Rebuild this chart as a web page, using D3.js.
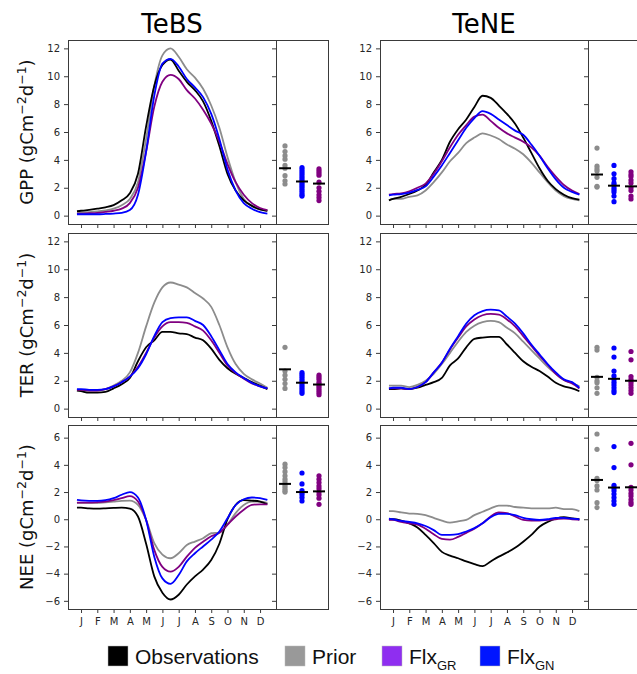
<!DOCTYPE html>
<html>
<head>
<meta charset="utf-8">
<script src="https://cdn.jsdelivr.net/npm/d3@7"></script>
<style>
  body { margin: 0; background: #fff; }
  svg { display: block; font-family: "DejaVu Sans", sans-serif; }
</style>
</head>
<body>
<div id="chart"></div>
<script>
// month positions (J = 0) of the climatology points
const monthPos = [-0.25, 0, 0.5, 1, 1.5, 2, 2.5, 3, 3.5, 4, 4.5, 5, 5.5, 6, 6.5, 7, 7.5, 8, 8.5, 9, 9.5, 10, 10.5, 11, 11.45];
const monthLabels = ["J", "F", "M", "A", "M", "J", "J", "A", "S", "O", "N", "D"];
const pfts = ["TeBS", "TeNE"];
const fluxes = ["GPP", "TER", "NEE"];
const posTicks = [0, 2, 4, 6, 8, 10, 12];
const neeTicks = [-6, -4, -2, 0, 2, 4, 6];

// TeBS seasonal cycles
const tebsGppObs   = [0.33, 0.35, 0.42, 0.5, 0.6, 0.75, 1.1, 1.6, 3.0, 6.4, 9.3, 10.8, 11.2, 10.4, 9.6, 9.0, 8.2, 6.8, 5.0, 3.0, 1.8, 1.1, 0.7, 0.45, 0.35];
const tebsGppPrior = [0.22, 0.22, 0.25, 0.3, 0.38, 0.5, 0.75, 1.2, 2.4, 5.5, 9.3, 11.5, 12.0, 11.4, 10.5, 9.9, 9.1, 7.9, 6.3, 4.2, 2.4, 1.2, 0.7, 0.45, 0.35];
const tebsGppGR    = [0.15, 0.15, 0.17, 0.2, 0.27, 0.35, 0.5, 0.9, 2.0, 4.6, 7.8, 9.6, 10.1, 9.8, 9.0, 8.4, 7.6, 6.6, 5.3, 3.7, 2.4, 1.5, 0.9, 0.55, 0.4];
const tebsGppGN    = [0.1, 0.1, 0.1, 0.1, 0.12, 0.15, 0.2, 0.4, 1.5, 4.6, 8.6, 10.9, 11.25, 10.7, 9.8, 9.2, 8.5, 7.3, 5.5, 3.3, 1.8, 0.9, 0.5, 0.25, 0.15];

const tebsTerObs   = [1.3, 1.25, 1.15, 1.15, 1.2, 1.45, 1.75, 2.2, 3.4, 4.4, 4.9, 5.5, 5.5, 5.4, 5.35, 5.1, 4.9, 4.3, 3.5, 2.9, 2.5, 2.2, 1.9, 1.65, 1.4];
const tebsTerPrior = [1.35, 1.35, 1.3, 1.3, 1.4, 1.65, 2.0, 2.6, 4.0, 5.9, 7.6, 8.7, 9.05, 8.9, 8.7, 8.3, 7.9, 7.3, 6.0, 4.4, 3.2, 2.5, 2.1, 1.8, 1.5];
const tebsTerGR    = [1.35, 1.35, 1.3, 1.3, 1.4, 1.6, 1.9, 2.3, 3.0, 4.0, 5.1, 5.9, 6.2, 6.2, 6.15, 5.9, 5.6, 4.9, 4.0, 3.1, 2.55, 2.15, 1.8, 1.6, 1.45];
const tebsTerGN    = [1.4, 1.4, 1.35, 1.35, 1.4, 1.6, 1.9, 2.3, 2.9, 3.9, 5.2, 6.2, 6.5, 6.55, 6.55, 6.3, 6.0, 5.2, 4.2, 3.2, 2.6, 2.2, 1.85, 1.6, 1.45];

const tebsNeeObs   = [0.85, 0.85, 0.8, 0.78, 0.8, 0.83, 0.85, 0.78, 0.2, -1.8, -4.2, -5.4, -5.9, -5.55, -4.8, -4.2, -3.7, -3.0, -1.8, 0.0, 1.05, 1.4, 1.37, 1.3, 1.1];
const tebsNeePrior = [1.2, 1.2, 1.2, 1.2, 1.25, 1.3, 1.35, 1.37, 1.05, -0.05, -1.76, -2.6, -2.87, -2.5, -1.9, -1.64, -1.4, -1.03, -0.98, -0.4, 0.45, 1.05, 1.3, 1.3, 1.2];
const tebsNeeGR    = [1.22, 1.22, 1.22, 1.25, 1.3, 1.4, 1.55, 1.7, 1.3, -0.05, -2.25, -3.5, -3.85, -3.5, -2.75, -2.1, -1.65, -1.25, -1.0, -0.4, 0.2, 0.7, 1.05, 1.1, 1.1];
const tebsNeeGN    = [1.42, 1.38, 1.35, 1.35, 1.4, 1.55, 1.8, 2.0, 1.6, -0.05, -2.75, -4.35, -4.75, -4.1, -3.1, -2.5, -2.0, -1.5, -0.9, 0.07, 1.05, 1.47, 1.6, 1.55, 1.42];

// TeNE seasonal cycles
const teneGppObs   = [1.1, 1.2, 1.35, 1.55, 1.8, 2.2, 3.1, 4.0, 5.3, 6.2, 6.9, 7.8, 8.6, 8.45, 7.9, 7.3, 6.6, 5.6, 4.5, 3.4, 2.5, 1.9, 1.5, 1.25, 1.15];
const teneGppPrior = [1.1, 1.2, 1.2, 1.35, 1.45, 1.8, 2.4, 3.1, 3.9, 4.5, 5.2, 5.6, 5.9, 5.75, 5.5, 5.1, 4.8, 4.4, 3.8, 3.1, 2.4, 1.8, 1.4, 1.2, 1.1];
const teneGppGR    = [1.5, 1.55, 1.6, 1.75, 2.0, 2.3, 3.0, 3.9, 4.9, 5.8, 6.5, 7.1, 7.25, 6.8, 6.3, 5.9, 5.6, 5.3, 4.9, 4.3, 3.5, 2.8, 2.2, 1.8, 1.55];
const teneGppGN    = [1.45, 1.5, 1.55, 1.65, 1.85, 2.1, 2.8, 3.6, 4.5, 5.4, 6.3, 7.0, 7.5, 7.3, 6.9, 6.5, 6.1, 5.8, 5.1, 4.3, 3.4, 2.6, 2.0, 1.7, 1.5];

const teneTerObs   = [1.4, 1.4, 1.45, 1.4, 1.5, 1.7, 1.9, 2.2, 3.1, 3.6, 4.4, 5.0, 5.1, 5.15, 5.15, 4.6, 4.0, 3.4, 3.0, 2.7, 2.3, 1.85, 1.6, 1.45, 1.25];
const teneTerPrior = [1.65, 1.65, 1.65, 1.55, 1.7, 2.0, 2.5, 3.2, 4.0, 4.8, 5.5, 5.95, 6.2, 6.3, 6.2, 5.8, 5.4, 4.8, 4.2, 3.6, 3.0, 2.5, 2.05, 1.85, 1.6];
const teneTerGR    = [1.45, 1.45, 1.45, 1.4, 1.55, 1.9, 2.6, 3.3, 4.25, 5.1, 5.9, 6.4, 6.7, 6.8, 6.75, 6.4, 5.9, 5.2, 4.5, 3.8, 3.15, 2.5, 2.05, 1.8, 1.45];
const teneTerGN    = [1.45, 1.5, 1.5, 1.4, 1.55, 1.9, 2.6, 3.3, 4.3, 5.2, 6.1, 6.7, 7.0, 7.1, 7.05, 6.6, 6.1, 5.4, 4.6, 3.9, 3.2, 2.6, 2.1, 1.9, 1.5];

const teneNeeObs   = [0.0, 0.0, -0.1, -0.3, -0.6, -1.15, -1.75, -2.4, -2.67, -2.87, -3.1, -3.3, -3.45, -3.1, -2.75, -2.45, -2.1, -1.65, -1.15, -0.55, -0.2, 0.05, 0.15, 0.07, 0.0];
const teneNeePrior = [0.6, 0.6, 0.5, 0.42, 0.4, 0.3, 0.1, -0.1, -0.25, -0.15, -0.05, 0.3, 0.55, 0.8, 1.0, 1.0, 0.9, 0.85, 0.8, 0.8, 0.8, 0.85, 0.75, 0.75, 0.6];
const teneNeeGR    = [-0.05, -0.05, -0.2, -0.3, -0.4, -0.7, -1.1, -1.45, -1.5, -1.3, -1.0, -0.7, -0.3, 0.2, 0.5, 0.45, 0.2, -0.05, -0.1, -0.1, -0.05, 0.0, 0.05, 0.0, -0.05];
const teneNeeGN    = [0.05, 0.0, -0.12, -0.2, -0.3, -0.5, -0.8, -1.15, -1.15, -1.1, -0.9, -0.65, -0.3, 0.15, 0.4, 0.4, 0.3, 0.1, 0.0, -0.05, 0.0, 0.1, 0.1, 0.05, 0.0];

// side panels: per-site values (prior, Flx_GN, Flx_GR) and their median marks
const tebsGppSidePrior = [5.0, 4.6, 4.3, 4.05, 3.6, 3.4, 2.87, 2.5, 2.27];
const tebsGppSideGN    = [3.45, 3.3, 3.15, 3.0, 2.85, 2.7, 2.55, 2.4, 2.25, 2.1, 1.95, 1.8, 1.65, 1.5, 1.4];
const tebsGppSideGR    = [3.35, 3.2, 3.05, 2.9, 2.4, 2.0, 1.75, 1.5, 1.3, 1.08];
const tebsGppMedian    = [3.4, 2.45, 2.3];

const tebsTerSidePrior = [4.4, 2.7, 2.4, 2.1, 1.8, 1.45];
const tebsTerSideGN    = [2.58, 2.45, 2.3, 2.15, 2.0, 1.85, 1.7, 1.55, 1.4, 1.25, 1.1];
const tebsTerSideGR    = [2.4, 2.25, 2.1, 1.9, 1.75, 1.6, 1.45, 1.3, 1.15, 1.0];
const tebsTerMedian    = [2.82, 1.86, 1.73];

const tebsNeeSidePrior = [4.05, 3.8, 3.5, 3.2, 2.95, 2.75, 2.55, 2.4, 2.25, 2.1, 2.0];
const tebsNeeSideGN    = [3.4, 2.6, 2.1, 1.95, 1.8, 1.6, 1.35];
const tebsNeeSideGR    = [3.2, 2.95, 2.7, 2.45, 2.25, 2.0, 1.8, 1.55, 1.1];
const tebsNeeMedian    = [2.6, 2.0, 2.05];

const teneGppSidePrior = [4.85, 3.55, 3.35, 3.2, 2.75, 2.1, 2.05];
const teneGppSideGN    = [3.6, 3.0, 2.65, 2.35, 2.2, 2.0, 1.85, 1.7, 1.4, 1.0];
const teneGppSideGR    = [3.15, 2.95, 2.8, 2.55, 2.35, 2.0, 1.8, 1.4, 1.2];
const teneGppMedian    = [2.95, 2.15, 2.1];

const teneTerSidePrior = [4.4, 4.2, 2.25, 2.0, 1.85, 1.5, 1.1];
const teneTerSideGN    = [4.35, 3.7, 2.7, 2.35, 2.1, 1.9, 1.7, 1.5, 1.3, 1.15];
const teneTerSideGR    = [4.1, 3.5, 2.3, 2.1, 1.9, 1.7, 1.5, 1.3, 1.1];
const teneTerMedian    = [2.28, 2.14, 2.0];

const teneNeeSidePrior = [6.27, 5.14, 3.0, 2.85, 2.45, 2.15, 1.22, 0.86];
const teneNeeSideGN    = [5.34, 3.8, 2.5, 2.3, 2.1, 1.85, 1.6, 1.35, 1.1];
const teneNeeSideGR    = [5.58, 4.0, 2.35, 2.15, 1.9, 1.7, 1.45, 1.25, 1.1];
const teneNeeMedian    = [2.89, 2.33, 2.35];

// build panel tables
const lineSeries = {
  TeBS: {
    GPP: [tebsGppPrior, tebsGppObs, tebsGppGR, tebsGppGN],
    TER: [tebsTerPrior, tebsTerObs, tebsTerGR, tebsTerGN],
    NEE: [tebsNeePrior, tebsNeeObs, tebsNeeGR, tebsNeeGN]
  },
  TeNE: {
    GPP: [teneGppPrior, teneGppObs, teneGppGR, teneGppGN],
    TER: [teneTerPrior, teneTerObs, teneTerGR, teneTerGN],
    NEE: [teneNeePrior, teneNeeObs, teneNeeGR, teneNeeGN]
  }
};
const lineColors = ["#8c8c8c", "#000000", "#800080", "#0000ff"];

const sideSeries = {
  TeBS: {
    GPP: [tebsGppSidePrior, tebsGppSideGN, tebsGppSideGR, tebsGppMedian],
    TER: [tebsTerSidePrior, tebsTerSideGN, tebsTerSideGR, tebsTerMedian],
    NEE: [tebsNeeSidePrior, tebsNeeSideGN, tebsNeeSideGR, tebsNeeMedian]
  },
  TeNE: {
    GPP: [teneGppSidePrior, teneGppSideGN, teneGppSideGR, teneGppMedian],
    TER: [teneTerSidePrior, teneTerSideGN, teneTerSideGR, teneTerMedian],
    NEE: [teneNeeSidePrior, teneNeeSideGN, teneNeeSideGR, teneNeeMedian]
  }
};
const sideKeys = ["prior", "gn", "gr"];
const sideColors = ["#8c8c8c", "#0000ff", "#800080"];

const width = 637, height = 674;
const colX = [68, 380];
const rowY = [40, 233, 425];
const mainW = 208, sideW = 52, rowH = 184;
const frameColor = "#3a3a3a";

const svg = d3.select("#chart").append("svg")
  .attr("width", width)
  .attr("height", height);

const x = d3.scaleLinear().domain([-0.8, 11.98]).range([0, mainW]);
const xSide = d3.scalePoint().domain(sideKeys).range([9, 43]);
const yDomains = [[-0.6, 12.6], [-0.6, 12.6], [-6.6, 6.93]];

const line = d3.line()
  .x((d, i) => x(monthPos[i]))
  .curve(d3.curveMonotoneX);

function styleAxis(g) {
  g.select(".domain").remove();
  g.selectAll(".tick line").attr("stroke", frameColor);
  g.selectAll(".tick text")
    .attr("fill", "#262626")
    .style("font-size", "10px")
    .style("font-family", "'DejaVu Sans', sans-serif");
}

pfts.forEach((pft, c) => {
  fluxes.forEach((flux, r) => {
    const y = d3.scaleLinear().domain(yDomains[r]).range([rowH, 0]);
    const ticks = r === 2 ? neeTicks : posTicks;
    const g = svg.append("g").attr("transform", `translate(${colX[c]},${rowY[r]})`);

    // seasonal lines
    const clipId = `clip-${pft}-${flux}`;
    g.append("clipPath").attr("id", clipId)
      .append("rect").attr("width", mainW).attr("height", rowH);
    g.append("g").attr("clip-path", `url(#${clipId})`)
      .selectAll("path")
      .data(lineSeries[pft][flux])
      .join("path")
      .attr("d", vals => line.y(v => y(v))(vals))
      .attr("fill", "none")
      .attr("stroke", (d, i) => lineColors[i])
      .attr("stroke-width", 1.8);

    // axes
    g.append("g")
      .call(d3.axisLeft(y).tickValues(ticks).tickSize(4).tickPadding(4))
      .call(styleAxis);
    g.append("g")
      .attr("transform", `translate(0,${rowH})`)
      .call(d3.axisBottom(x).tickValues(d3.range(12)).tickSize(4).tickPadding(5)
        .tickFormat(i => r === 2 ? monthLabels[i] : ""))
      .call(styleAxis);

    // side panel
    const side = g.append("g").attr("transform", `translate(${mainW},0)`);
    side.append("g")
      .call(d3.axisLeft(y).tickValues(ticks).tickSize(4).tickFormat(""))
      .call(styleAxis);

    const sd = sideSeries[pft][flux];
    sideKeys.forEach((key, k) => {
      side.append("g").selectAll("circle")
        .data(sd[k])
        .join("circle")
        .attr("cx", xSide(key))
        .attr("cy", v => y(v))
        .attr("r", 2.6)
        .attr("fill", sideColors[k]);
    });
    side.selectAll("line.median")
      .data(sd[3])
      .join("line")
      .attr("class", "median")
      .attr("x1", (v, k) => xSide(sideKeys[k]) - 6)
      .attr("x2", (v, k) => xSide(sideKeys[k]) + 6)
      .attr("y1", v => y(v))
      .attr("y2", v => y(v))
      .attr("stroke", "#000")
      .attr("stroke-width", 2);

    // frames
    g.append("rect")
      .attr("x", 0.5).attr("y", 0.5)
      .attr("width", mainW).attr("height", rowH)
      .attr("fill", "none").attr("stroke", frameColor).attr("stroke-width", 1);
    side.append("rect")
      .attr("x", 0.5).attr("y", 0.5)
      .attr("width", sideW).attr("height", rowH)
      .attr("fill", "none").attr("stroke", frameColor).attr("stroke-width", 1);

    // column titles
    if (r === 0) {
      svg.append("text")
        .attr("x", colX[c] + mainW / 2)
        .attr("y", 33)
        .attr("text-anchor", "middle")
        .style("font-size", "26px")
        .text(pft);
    }

    // row labels
    if (c === 0) {
      const t = svg.append("text")
        .attr("transform", `translate(33,${rowY[r] + rowH / 2}) rotate(-90)`)
        .attr("text-anchor", "middle")
        .style("font-size", "18px")
        .attr("fill", "#111");
      t.append("tspan").text(`${flux} (gCm`);
      t.append("tspan").attr("dy", -7).style("font-size", "12.5px").text("\u22122");
      t.append("tspan").attr("dy", 7).text("d");
      t.append("tspan").attr("dy", -7).style("font-size", "12.5px").text("\u22121");
      t.append("tspan").attr("dy", 7).text(")");
    }
  });
});

// legend
const legendItems = [
  { label: "Observations", sub: "", color: "#000000", x: 108 },
  { label: "Prior", sub: "", color: "#999999", x: 285 },
  { label: "Flx", sub: "GR", color: "#8f2ef0", x: 382 },
  { label: "Flx", sub: "GN", color: "#0015ff", x: 480 }
];
const legend = svg.append("g")
  .style("font-family", "'Liberation Sans', Arial, sans-serif");
const item = legend.selectAll("g")
  .data(legendItems)
  .join("g")
  .attr("transform", d => `translate(${d.x},646)`);
item.append("rect")
  .attr("width", 20).attr("height", 20)
  .attr("fill", d => d.color)
  .attr("stroke", "#bbb").attr("stroke-width", 0.5);
const lt = item.append("text")
  .attr("x", 27)
  .attr("y", 18)
  .style("font-size", "21px")
  .attr("fill", "#111");
lt.append("tspan").text(d => d.label);
lt.append("tspan")
  .attr("dy", 6)
  .style("font-size", "13px")
  .text(d => d.sub);
</script>
</body>
</html>
